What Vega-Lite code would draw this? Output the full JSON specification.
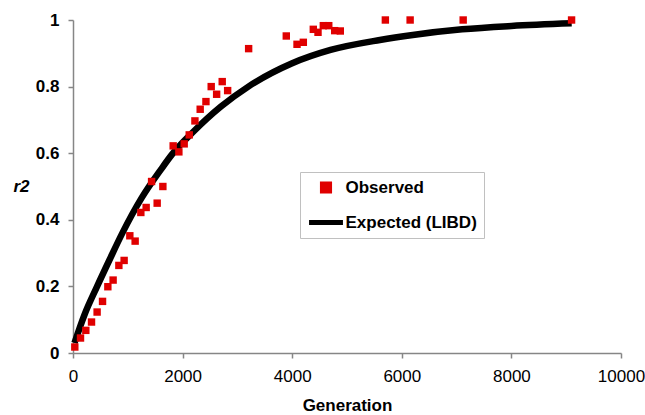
{
  "$schema": "https://vega.github.io/schema/vega-lite/v6.json",
  "autosize": {"type": "none"},
  "width": 548,
  "height": 333,
  "padding": {"left": 73, "top": 20, "right": 24, "bottom": 62},
  "background": "white",
  "config": {
    "view": {"stroke": null},
    "font": "Liberation Sans",
    "axis": {"grid": false, "domainColor": "#868686", "tickColor": "#868686", "domainWidth": 1.5, "tickWidth": 1.5, "tickSize": 5, "labelColor": "black", "titleColor": "black", "labelFontSize": 17, "titleFontSize": 17, "titleFontWeight": "bold"}
  },
  "data": {
    "values": [
      {"series": "Observed", "g": 33, "r2": 0.018},
      {"series": "Observed", "g": 137, "r2": 0.045},
      {"series": "Observed", "g": 234, "r2": 0.068},
      {"series": "Observed", "g": 338, "r2": 0.093},
      {"series": "Observed", "g": 440, "r2": 0.123},
      {"series": "Observed", "g": 539, "r2": 0.155},
      {"series": "Observed", "g": 636, "r2": 0.199},
      {"series": "Observed", "g": 732, "r2": 0.219},
      {"series": "Observed", "g": 837, "r2": 0.263},
      {"series": "Observed", "g": 933, "r2": 0.278},
      {"series": "Observed", "g": 1037, "r2": 0.352},
      {"series": "Observed", "g": 1134, "r2": 0.336},
      {"series": "Observed", "g": 1238, "r2": 0.422},
      {"series": "Observed", "g": 1335, "r2": 0.437},
      {"series": "Observed", "g": 1434, "r2": 0.515},
      {"series": "Observed", "g": 1536, "r2": 0.45},
      {"series": "Observed", "g": 1640, "r2": 0.5},
      {"series": "Observed", "g": 1828, "r2": 0.622},
      {"series": "Observed", "g": 1932, "r2": 0.604},
      {"series": "Observed", "g": 2029, "r2": 0.628},
      {"series": "Observed", "g": 2121, "r2": 0.655},
      {"series": "Observed", "g": 2225, "r2": 0.697},
      {"series": "Observed", "g": 2321, "r2": 0.732},
      {"series": "Observed", "g": 2426, "r2": 0.755},
      {"series": "Observed", "g": 2522, "r2": 0.8},
      {"series": "Observed", "g": 2621, "r2": 0.777},
      {"series": "Observed", "g": 2723, "r2": 0.815},
      {"series": "Observed", "g": 2822, "r2": 0.788},
      {"series": "Observed", "g": 3205, "r2": 0.914},
      {"series": "Observed", "g": 3892, "r2": 0.952},
      {"series": "Observed", "g": 4088, "r2": 0.927},
      {"series": "Observed", "g": 4203, "r2": 0.933},
      {"series": "Observed", "g": 4385, "r2": 0.972},
      {"series": "Observed", "g": 4471, "r2": 0.963},
      {"series": "Observed", "g": 4568, "r2": 0.983},
      {"series": "Observed", "g": 4667, "r2": 0.983},
      {"series": "Observed", "g": 4776, "r2": 0.968},
      {"series": "Observed", "g": 4878, "r2": 0.967},
      {"series": "Observed", "g": 5700, "r2": 1.0},
      {"series": "Observed", "g": 6152, "r2": 1.0},
      {"series": "Observed", "g": 7120, "r2": 1.0},
      {"series": "Observed", "g": 9098, "r2": 1.0},
      {"series": "Expected (LIBD)", "g": 27, "r2": 0.03},
      {"series": "Expected (LIBD)", "g": 210, "r2": 0.115},
      {"series": "Expected (LIBD)", "g": 440, "r2": 0.2},
      {"series": "Expected (LIBD)", "g": 667, "r2": 0.28},
      {"series": "Expected (LIBD)", "g": 900, "r2": 0.36},
      {"series": "Expected (LIBD)", "g": 1250, "r2": 0.465},
      {"series": "Expected (LIBD)", "g": 1600, "r2": 0.55},
      {"series": "Expected (LIBD)", "g": 1800, "r2": 0.595},
      {"series": "Expected (LIBD)", "g": 2200, "r2": 0.665},
      {"series": "Expected (LIBD)", "g": 2700, "r2": 0.74},
      {"series": "Expected (LIBD)", "g": 3200, "r2": 0.8},
      {"series": "Expected (LIBD)", "g": 4000, "r2": 0.87},
      {"series": "Expected (LIBD)", "g": 4700, "r2": 0.91},
      {"series": "Expected (LIBD)", "g": 5600, "r2": 0.94},
      {"series": "Expected (LIBD)", "g": 6200, "r2": 0.955},
      {"series": "Expected (LIBD)", "g": 7100, "r2": 0.972},
      {"series": "Expected (LIBD)", "g": 8000, "r2": 0.982},
      {"series": "Expected (LIBD)", "g": 9100, "r2": 0.99}
    ]
  },
  "encoding": {
    "x": {"field": "g", "type": "quantitative", "scale": {"domain": [0, 10000], "nice": false},
      "axis": {"title": "Generation", "values": [0, 2000, 4000, 6000, 8000, 10000], "format": "d", "labelPadding": 10, "titlePadding": 13, "labelFlush": false}},
    "y": {"field": "r2", "type": "quantitative", "scale": {"domain": [0, 1], "nice": false},
      "axis": {"title": "r2", "values": [0, 0.2, 0.4, 0.6, 0.8, 1], "format": ".1~f", "labelFontWeight": "bold", "labelPadding": 9, "labelFlush": false,
        "titleAngle": 0, "titleFontStyle": "italic", "titleAlign": "center", "titleBaseline": "middle", "titleX": -52, "titleY": 166}},
    "color": {"field": "series", "type": "nominal",
      "scale": {"domain": ["Observed", "Expected (LIBD)"], "range": ["#e00000", "black"]},
      "legend": {"title": null, "orient": "none", "legendX": 227, "legendY": 152,
        "strokeColor": "#c0c0c0", "padding": 6.5, "labelFontSize": 17, "labelFontWeight": "bold", "labelColor": "black",
        "symbolSize": 1150, "symbolStrokeWidth": 5, "clipHeight": 18, "rowPadding": 17, "labelOffset": 0, "symbolOffset": 0,
        "encode": {"symbols": {"update": {
          "shape": {"signal": "datum.value === 'Observed' ? 'M-0.21,-0.21H0.21V0.21H-0.21Z' : 'stroke'"},
          "fill": {"signal": "datum.value === 'Observed' ? '#e00000' : 'transparent'"},
          "stroke": {"signal": "datum.value === 'Observed' ? 'transparent' : 'black'"},
          "strokeCap": {"value": "butt"},
          "opacity": {"value": 1}
        }}}}
    }
  },
  "layer": [
    {"transform": [{"filter": "datum.series === 'Expected (LIBD)'"}],
     "mark": {"type": "line", "interpolate": "monotone", "strokeWidth": 6.5, "strokeCap": "butt"}},
    {"transform": [{"filter": "datum.series === 'Observed'"}],
     "mark": {"type": "point", "shape": "square", "filled": true, "size": 55, "opacity": 1}}
  ]
}
